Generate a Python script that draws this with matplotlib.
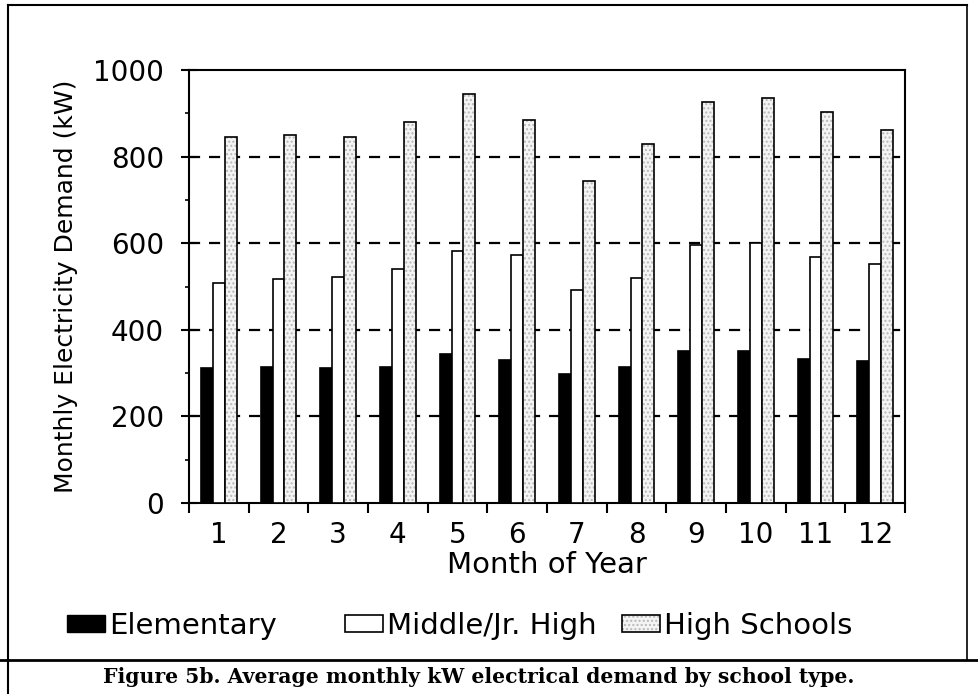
import matplotlib.pyplot as plt
import numpy as np
from matplotlib.patches import Patch
from matplotlib.lines import Line2D
from matplotlib.ticker import MultipleLocator, FixedLocator

plt.rcParams['font.family'] = ['DejaVu Sans']

months = ["1", "2", "3", "4", "5", "6", "7", "8", "9", "10", "11", "12"]
elementary = [311, 315, 311, 315, 344, 330, 298, 313, 351, 351, 332, 327]
middle = [507, 517, 521, 540, 583, 573, 492, 519, 596, 601, 569, 552]
high = [846, 850, 846, 880, 944, 884, 744, 829, 927, 935, 903, 861]

W, H = 979, 694
fig = plt.figure(figsize=(W / 100, H / 100), dpi=100)
ax = fig.add_axes([189 / W, 1 - 503 / H, 716 / W, 433 / H])

x = np.arange(len(months))
bw = 0.2
ax.bar(x - bw, elementary, bw, color="black", edgecolor="black", linewidth=1.2, zorder=3)
ax.bar(x, middle, bw, color="white", edgecolor="black", linewidth=1.2, zorder=3)
ax.bar(x + bw, high, bw, color="#f4f4f4", edgecolor="#b8b8b8", hatch="....",
       linewidth=0, zorder=3)
ax.bar(x + bw, high, bw, fill=False, edgecolor="black", linewidth=1.2, zorder=4)

ax.set_xlim(-0.5, len(months) - 0.5)
ax.set_ylim(0, 1000)
ax.set_yticks(range(0, 1001, 200))
ax.yaxis.set_minor_locator(MultipleLocator(100))
ax.set_xticks(x)
ax.set_xticklabels(months)
ax.xaxis.set_minor_locator(FixedLocator(np.arange(-0.5, len(months), 1.0)))

ax.tick_params(axis="x", which="major", length=0, pad=13, labelsize=20)
ax.tick_params(axis="x", which="minor", direction="out", length=7, width=1.5)
ax.tick_params(axis="y", which="major", direction="inout", length=12, width=1.5,
               pad=12, labelsize=20)
ax.tick_params(axis="y", which="minor", direction="out", length=3, width=1.2)

for s in ax.spines.values():
    s.set_linewidth(1.5)

for v in [200, 400, 600, 800]:
    ax.axhline(v, color="black", linestyle=(0, (5, 4)), linewidth=1.6, zorder=1)

ax.set_xlabel("Month of Year", fontsize=21, va="top")
ax.xaxis.set_label_coords(0.5, -0.11)
ax.set_ylabel("Monthly Electricity Demand (kW)", fontsize=18)
ax.yaxis.set_label_coords(-0.155, 0.5)

# legend entries placed individually to keep the original spacing
entries = [
    ("Elementary", [Patch(facecolor="black", edgecolor="black")], 67),
    ("Middle/Jr. High", [Patch(facecolor="white", edgecolor="black", linewidth=1.2)], 345),
    ("High Schools", [(Patch(facecolor="#f4f4f4", edgecolor="#b8b8b8", hatch="....", linewidth=0),
                       Patch(fill=False, edgecolor="black", linewidth=1.2))], 622),
]
for label, handles, px in entries:
    fig.legend(handles, [label], loc="center left", bbox_to_anchor=(px / W, 1 - 626 / H),
               frameon=False, fontsize=21, borderpad=0, borderaxespad=0,
               handlelength=1.3, handleheight=0.55, handletextpad=0.15)

fig.text(479 / W, 1 - 677 / H,
         "Figure 5b. Average monthly kW electrical demand by school type.",
         family="DejaVu Serif", weight="bold", fontsize=14.7, ha="center", va="center")

# page frame
fig.add_artist(Line2D([8 / W, 967 / W], [1 - 5 / H, 1 - 5 / H], color="black", lw=1.5))
fig.add_artist(Line2D([8 / W, 8 / W], [1 - 5 / H, 0], color="black", lw=1.5))
fig.add_artist(Line2D([967 / W, 967 / W], [1 - 5 / H, 1 - 660 / H], color="black", lw=1.2))
fig.add_artist(Line2D([0, 1], [1 - 660 / H, 1 - 660 / H], color="black", lw=2))

fig.savefig("out.png", dpi=100)
